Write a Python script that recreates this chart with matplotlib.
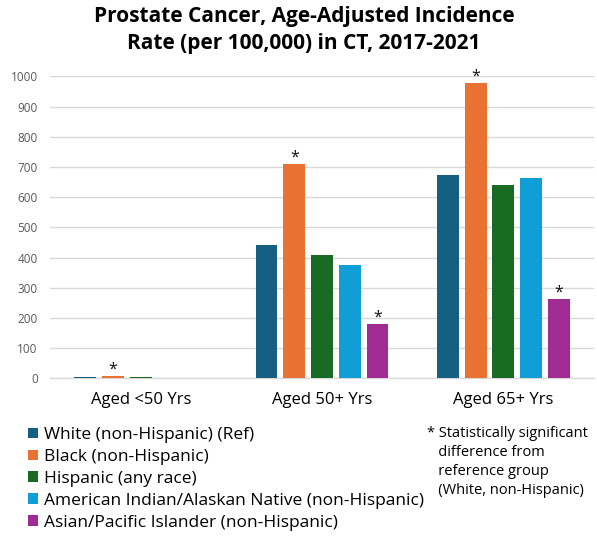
import numpy as np
import matplotlib.pyplot as plt

plt.rcParams['font.family'] = ['Open Sans', 'DejaVu Sans']

# Age groups and incidence rates per 100,000 by race/ethnicity
age_groups = ["Aged <50 Yrs", "Aged 50+ Yrs", "Aged 65+ Yrs"]
series_names = [
    "White (non-Hispanic) (Ref)",
    "Black (non-Hispanic)",
    "Hispanic (any race)",
    "American Indian/Alaskan Native (non-Hispanic)",
    "Asian/Pacific Islander (non-Hispanic)",
]
white = [3, 441, 674]
black = [9, 711, 978]
hispanic = [3, 409, 639]
aian = [1, 375, 664]
api = [0, 179, 264]
# significance flags (vs. White non-Hispanic)
sig_black = [True, True, True]
sig_api = [False, True, True]

colors = ['#156082', '#E97132', '#196B24', '#0F9ED5', '#A02B93']

values = [white, black, hispanic, aian, api]
flags = [[False] * 3, sig_black, [False] * 3, [False] * 3, sig_api]

fig = plt.figure(figsize=(5.97, 5.42), dpi=100)
ax = fig.add_axes([0.084, 0.302, 0.911, 0.557])

x = np.arange(len(age_groups))
step = 0.153
width = 0.12
handles = []
for i, (vals, col, flg) in enumerate(zip(values, colors, flags)):
    pos = x + (i - 2) * step
    b = ax.bar(pos, vals, width, color=col, edgecolor='none', zorder=3)
    handles.append(b)
    for p, v, f in zip(pos, vals, flg):
        if f:
            ax.text(p, v + 8, "*", ha='center', va='baseline', fontsize=11.5, color='#111111')

ax.set_xlim(-0.5, 2.5)
ax.set_ylim(0, 1000)
ax.set_yticks(np.arange(0, 1001, 100))
ax.tick_params(axis='y', length=0, labelsize=8.5, labelcolor='#595959', pad=9)
ax.tick_params(axis='x', length=0, labelsize=12, pad=10)
ax.set_xticks(x)
ax.set_xticklabels(age_groups)
ax.grid(axis='y', color='#d9d9d9', linewidth=1, zorder=0)
for s in ['top', 'right', 'left']:
    ax.spines[s].set_visible(False)
ax.spines['bottom'].set_color('#d9d9d9')
ax.spines['bottom'].set_linewidth(1)

fig.text(0.509, 0.989, "Prostate Cancer, Age-Adjusted Incidence\nRate (per 100,000) in CT, 2017-2021",
         ha='center', va='top', fontsize=15, fontweight='bold', linespacing=1.38)

fig.legend(handles, series_names, loc='upper left', bbox_to_anchor=(0.047, 0.212),
           frameon=False, fontsize=12.5, handlelength=0.57, handleheight=0.57,
           handletextpad=0.34, labelspacing=0.34, borderpad=0, borderaxespad=0)

fig.text(0.715, 0.214, "* Statistically significant\n   difference from\n   reference group\n   (White, non-Hispanic)",
         ha='left', va='top', fontsize=10.5, linespacing=1.35)

fig.savefig("out.png", dpi=100)
